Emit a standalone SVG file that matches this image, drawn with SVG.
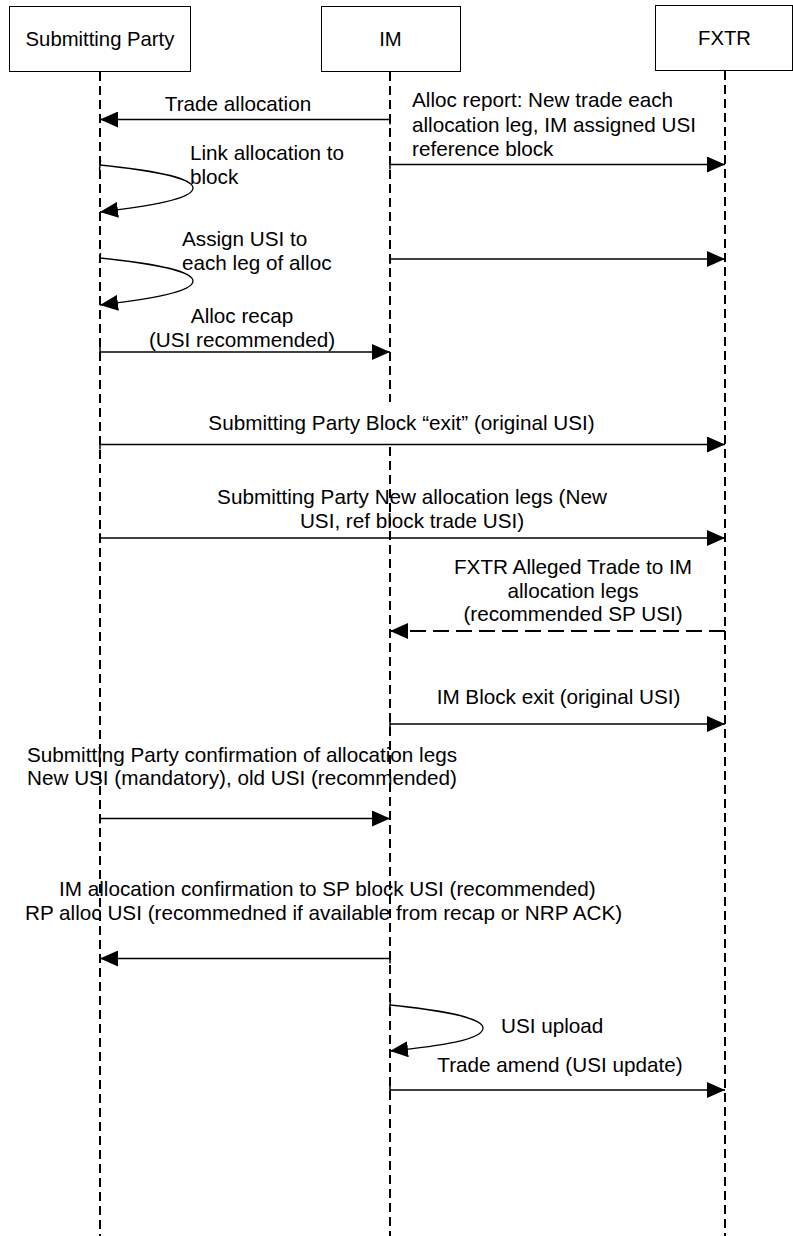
<svg xmlns="http://www.w3.org/2000/svg" width="793" height="1236" viewBox="0 0 793 1236">
  <style>
    text { font-family: "Liberation Sans", Arial, sans-serif; font-size: 20.7px; fill: #000; }
    .head { font-size: 20.3px; }
    .mid { text-anchor: middle; }
    .box { fill: #fff; stroke: #000; stroke-width: 1; }
    .life { fill: none; stroke: #000; stroke-width: 2; stroke-dasharray: 9 5; }
    .msg { fill: none; stroke: #000; stroke-width: 1.3; marker-start: url(#tick); marker-end: url(#ah); }
    .ret { fill: none; stroke: #000; stroke-width: 2; stroke-dasharray: 16 7; marker-end: url(#ah); }
  </style>
  <defs>
    <marker id="ah" markerUnits="userSpaceOnUse" markerWidth="18" markerHeight="16" refX="18" refY="8" orient="auto">
      <path d="M0,0 L18,8 L0,16 Z" fill="#000"/>
    </marker>
    <marker id="tick" markerUnits="userSpaceOnUse" markerWidth="4" markerHeight="10" refX="2" refY="5" orient="auto">
      <line x1="2" y1="0" x2="2" y2="10" stroke="#000" stroke-width="1.5"/>
    </marker>
  </defs>

  <!-- participants -->
  <g id="submitting-party">
    <rect class="box" x="9.5" y="6.5" width="181" height="65"/>
    <text class="mid head" x="100" y="46">Submitting Party</text>
  </g>
  <g id="im">
    <rect class="box" x="321.5" y="6.5" width="139" height="65"/>
    <text class="mid head" x="390.5" y="46">IM</text>
  </g>
  <g id="fxtr">
    <rect class="box" x="655.5" y="5.5" width="137" height="65"/>
    <text class="mid head" x="724.5" y="45">FXTR</text>
  </g>

  <!-- lifelines -->
  <g id="lifelines">
    <line class="life" x1="100" y1="72" x2="100" y2="1236"/>
    <line class="life" x1="390" y1="72" x2="390" y2="402"/>
    <line class="life" x1="390" y1="447" x2="390" y2="1236"/>
    <line class="life" x1="725" y1="71" x2="725" y2="1236"/>
  </g>

  <!-- messages -->
  <g id="connectors">
    <line class="msg" x1="390" y1="119.5" x2="100" y2="119.5"/>
    <line class="msg" x1="390" y1="164.5" x2="725" y2="164.5"/>
    <path class="msg" d="M100,165 C150,170 193,178 193,188 C193,199 150,206 100,212"/>
    <path class="msg" d="M100,258 C150,263 193,271 193,281 C193,292 150,299 100,305"/>
    <line class="msg" x1="390" y1="259" x2="725" y2="259"/>
    <line class="msg" x1="100" y1="352" x2="390" y2="352"/>
    <line class="msg" x1="100" y1="444.5" x2="725" y2="444.5"/>
    <line class="msg" x1="100" y1="538" x2="725" y2="538"/>
    <line class="ret" x1="725" y1="631" x2="390" y2="631"/>
    <line class="msg" x1="390" y1="724" x2="725" y2="724"/>
    <line class="msg" x1="100" y1="818.5" x2="390" y2="818.5"/>
    <line class="msg" x1="390" y1="958.5" x2="100" y2="958.5"/>
    <path class="msg" d="M390,1005 C440,1010 483,1018 483,1028 C483,1040 440,1046 390,1051"/>
    <line class="msg" x1="390" y1="1090" x2="725" y2="1090"/>
  </g>

  <!-- message labels -->
  <g id="labels">
    <text class="mid" x="238" y="110.5">Trade allocation</text>
    <text x="412" y="107">Alloc report: New trade each</text>
    <text x="412" y="131.5">allocation leg, IM assigned USI</text>
    <text x="412" y="156">reference block</text>
    <text x="190" y="159.5">Link allocation to</text>
    <text x="190" y="183.5">block</text>
    <text x="182" y="246">Assign USI to</text>
    <text x="182" y="269.5">each leg of alloc</text>
    <text class="mid" x="242" y="323">Alloc recap</text>
    <text class="mid" x="242" y="346.5">(USI recommended)</text>
    <text class="mid" x="401.5" y="430">Submitting Party Block “exit” (original USI)</text>
    <text class="mid" x="412" y="504">Submitting Party New allocation legs (New</text>
    <text class="mid" x="412" y="527.5">USI, ref block trade USI)</text>
    <text class="mid" x="573" y="574">FXTR Alleged Trade to IM</text>
    <text class="mid" x="573" y="597.5">allocation legs</text>
    <text class="mid" x="573" y="621">(recommended SP USI)</text>
    <text class="mid" x="558.5" y="703.5">IM Block exit (original USI)</text>
    <text x="27" y="761.5">Submitting Party confirmation of allocation legs</text>
    <text x="27" y="785">New USI (mandatory), old USI (recommended)</text>
    <text x="59" y="896">IM allocation confirmation to SP block USI (recommended)</text>
    <text x="25" y="919.5">RP alloc USI (recommedned if available from recap or NRP ACK)</text>
    <text x="501" y="1033">USI upload</text>
    <text class="mid" x="560" y="1072">Trade amend (USI update)</text>
  </g>
</svg>
